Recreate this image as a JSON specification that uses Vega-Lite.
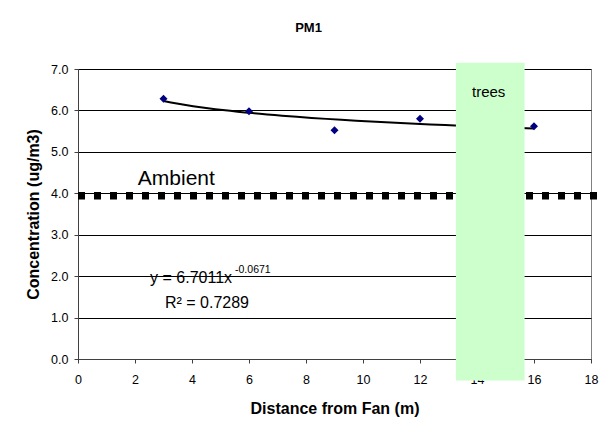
{
  "$schema": "https://vega.github.io/schema/vega-lite/v6.json",
  "width": 513,
  "height": 290,
  "autosize": {"type": "none"},
  "padding": {"left": 78, "top": 69, "right": 17, "bottom": 76},
  "background": "white",
  "title": {"text": "PM1", "font": "Liberation Sans", "fontSize": 13, "fontWeight": "bold", "dx": -26, "offset": 28, "color": "black"},
  "datasets": {
    "pm": [
      {"distance": 3, "conc": 6.28},
      {"distance": 6, "conc": 5.98},
      {"distance": 9, "conc": 5.52},
      {"distance": 12, "conc": 5.8},
      {"distance": 16, "conc": 5.62}
    ],
    "ambient": [{"start": 0, "end": 18.25, "level": 3.94, "label": "Ambient"}],
    "trees": [{"start": 13.26, "end": 15.67, "mid": 14.41, "label": "trees"}]
  },
  "layer": [
    {
      "data": {"name": "ambient"},
      "mark": {"type": "rule", "color": "black", "strokeWidth": 7.5, "strokeDash": [7, 9], "strokeCap": "butt"},
      "encoding": {
        "x": {"field": "start", "type": "quantitative", "scale": {"domain": [0, 18], "nice": false}, "title": "Distance from Fan (m)", "axis": {"values": [0, 2, 4, 6, 8, 10, 12, 14, 16, 18]}},
        "x2": {"field": "end"},
        "y": {"field": "level", "type": "quantitative", "scale": {"domain": [0, 7], "nice": false}, "title": "Concentration (ug/m3)", "axis": {"values": [0, 1, 2, 3, 4, 5, 6, 7], "format": ".1f"}}
      }
    },
    {
      "data": {"name": "pm"},
      "transform": [{"regression": "conc", "on": "distance", "method": "pow"}],
      "mark": {"type": "line", "color": "black", "strokeWidth": 2},
      "encoding": {
        "x": {"field": "distance", "type": "quantitative", "scale": {"domain": [0, 18], "nice": false}, "title": "Distance from Fan (m)", "axis": {"values": [0, 2, 4, 6, 8, 10, 12, 14, 16, 18]}},
        "y": {"field": "conc", "type": "quantitative", "scale": {"domain": [0, 7], "nice": false}, "title": "Concentration (ug/m3)", "axis": {"values": [0, 1, 2, 3, 4, 5, 6, 7], "format": ".1f"}}
      }
    },
    {
      "data": {"name": "pm"},
      "mark": {"type": "point", "shape": "diamond", "filled": true, "color": "#000080", "size": 65, "opacity": 1},
      "encoding": {
        "x": {"field": "distance", "type": "quantitative", "scale": {"domain": [0, 18], "nice": false}, "title": "Distance from Fan (m)", "axis": {"values": [0, 2, 4, 6, 8, 10, 12, 14, 16, 18]}},
        "y": {"field": "conc", "type": "quantitative", "scale": {"domain": [0, 7], "nice": false}, "title": "Concentration (ug/m3)", "axis": {"values": [0, 1, 2, 3, 4, 5, 6, 7], "format": ".1f"}}
      }
    },
    {
      "data": {"name": "trees"},
      "mark": {"type": "rect", "fill": "#ccffcc"},
      "encoding": {
        "x": {"field": "start", "type": "quantitative", "scale": {"domain": [0, 18], "nice": false}, "title": "Distance from Fan (m)", "axis": {"values": [0, 2, 4, 6, 8, 10, 12, 14, 16, 18]}},
        "x2": {"field": "end"},
        "y": {"datum": 7.15, "type": "quantitative", "scale": {"domain": [0, 7], "nice": false}, "title": "Concentration (ug/m3)", "axis": {"values": [0, 1, 2, 3, 4, 5, 6, 7], "format": ".1f"}},
        "y2": {"datum": -0.52}
      }
    },
    {
      "data": {"name": "trees"},
      "mark": {"type": "text", "font": "Liberation Sans", "fontSize": 15, "color": "black", "align": "center", "baseline": "alphabetic"},
      "encoding": {
        "x": {"field": "mid", "type": "quantitative", "scale": {"domain": [0, 18], "nice": false}, "title": "Distance from Fan (m)", "axis": {"values": [0, 2, 4, 6, 8, 10, 12, 14, 16, 18]}},
        "y": {"datum": 6.33, "type": "quantitative", "scale": {"domain": [0, 7], "nice": false}, "title": "Concentration (ug/m3)", "axis": {"values": [0, 1, 2, 3, 4, 5, 6, 7], "format": ".1f"}},
        "text": {"field": "label"}
      }
    },
    {
      "data": {"name": "ambient"},
      "mark": {"type": "text", "font": "Liberation Sans", "fontSize": 21, "color": "black", "align": "left", "baseline": "alphabetic"},
      "encoding": {
        "x": {"datum": 2.1, "type": "quantitative", "scale": {"domain": [0, 18], "nice": false}, "title": "Distance from Fan (m)", "axis": {"values": [0, 2, 4, 6, 8, 10, 12, 14, 16, 18]}},
        "y": {"datum": 4.2, "type": "quantitative", "scale": {"domain": [0, 7], "nice": false}, "title": "Concentration (ug/m3)", "axis": {"values": [0, 1, 2, 3, 4, 5, 6, 7], "format": ".1f"}},
        "text": {"field": "label"}
      }
    },
    {
      "data": {"values": [{"t": "y = 6.7011x"}]},
      "mark": {"type": "text", "font": "Liberation Sans", "fontSize": 16, "color": "black", "align": "left", "baseline": "alphabetic"},
      "encoding": {
        "x": {"datum": 2.53, "type": "quantitative", "scale": {"domain": [0, 18], "nice": false}, "title": "Distance from Fan (m)", "axis": {"values": [0, 2, 4, 6, 8, 10, 12, 14, 16, 18]}},
        "y": {"datum": 1.83, "type": "quantitative", "scale": {"domain": [0, 7], "nice": false}, "title": "Concentration (ug/m3)", "axis": {"values": [0, 1, 2, 3, 4, 5, 6, 7], "format": ".1f"}},
        "text": {"field": "t"}
      }
    },
    {
      "data": {"values": [{"t": "-0.0671"}]},
      "mark": {"type": "text", "font": "Liberation Sans", "fontSize": 10.5, "color": "black", "align": "left", "baseline": "alphabetic"},
      "encoding": {
        "x": {"datum": 5.51, "type": "quantitative", "scale": {"domain": [0, 18], "nice": false}, "title": "Distance from Fan (m)", "axis": {"values": [0, 2, 4, 6, 8, 10, 12, 14, 16, 18]}},
        "y": {"datum": 2.07, "type": "quantitative", "scale": {"domain": [0, 7], "nice": false}, "title": "Concentration (ug/m3)", "axis": {"values": [0, 1, 2, 3, 4, 5, 6, 7], "format": ".1f"}},
        "text": {"field": "t"}
      }
    },
    {
      "data": {"values": [{"t": "R² = 0.7289"}]},
      "mark": {"type": "text", "font": "Liberation Sans", "fontSize": 16, "color": "black", "align": "left", "baseline": "alphabetic"},
      "encoding": {
        "x": {"datum": 3.05, "type": "quantitative", "scale": {"domain": [0, 18], "nice": false}, "title": "Distance from Fan (m)", "axis": {"values": [0, 2, 4, 6, 8, 10, 12, 14, 16, 18]}},
        "y": {"datum": 1.22, "type": "quantitative", "scale": {"domain": [0, 7], "nice": false}, "title": "Concentration (ug/m3)", "axis": {"values": [0, 1, 2, 3, 4, 5, 6, 7], "format": ".1f"}},
        "text": {"field": "t"}
      }
    }
  ],
  "config": {
    "font": "Liberation Sans",
    "view": {"stroke": "#808080", "strokeWidth": 1},
    "axis": {
      "labelFont": "Liberation Sans", "labelFontSize": 12.5, "labelColor": "black",
      "titleFont": "Liberation Sans", "titleFontSize": 16, "titleFontWeight": "bold", "titleColor": "black",
      "domainColor": "#404040", "tickColor": "#404040", "tickSize": 4,
      "gridColor": "black", "gridOpacity": 1, "gridWidth": 1
    },
    "axisX": {"grid": false, "labelPadding": 10, "titlePadding": 15, "labelFlush": false},
    "axisY": {"grid": true, "labelPadding": 6, "titlePadding": 9, "labelFlush": false}
  }
}
